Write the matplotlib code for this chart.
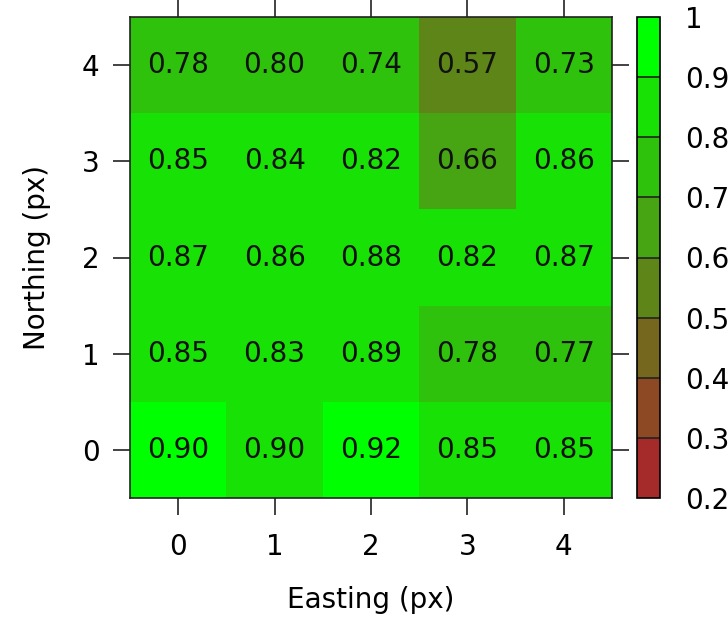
import numpy as np
import matplotlib
matplotlib.use("Agg")
import matplotlib.pyplot as plt
from matplotlib.colors import ListedColormap, BoundaryNorm

easting = [0, 1, 2, 3, 4]
northing = [0, 1, 2, 3, 4]
# rows: northing 0..4, columns: easting 0..4
values = np.array([
    [0.904, 0.897, 0.92, 0.85, 0.85],
    [0.85, 0.83, 0.89, 0.78, 0.77],
    [0.87, 0.86, 0.88, 0.82, 0.87],
    [0.85, 0.84, 0.82, 0.66, 0.86],
    [0.78, 0.798, 0.74, 0.57, 0.73],
])
levels = [0.2, 0.3, 0.4, 0.5, 0.6, 0.7, 0.8, 0.9, 1.0]
level_labels = ["0.2", "0.3", "0.4", "0.5", "0.6", "0.7", "0.8", "0.9", "1"]

c0 = np.array([165, 42, 42]) / 255
c1 = np.array([0, 255, 0]) / 255
n = len(levels) - 1
cols = [tuple(c0 + (c1 - c0) * i / (n - 1)) for i in range(n)]
cmap = ListedColormap(cols)
norm = BoundaryNorm(levels, cmap.N)

fig = plt.figure(figsize=(7.28, 6.18), dpi=100)
W, H = 728, 618
ax = fig.add_axes([130 / W, 1 - 498 / H, 482 / W, 481 / H])
cax = fig.add_axes([637 / W, 1 - 498 / H, 23 / W, 481 / H])

fs = 20
ax.pcolormesh(np.arange(-0.5, 5, 1), np.arange(-0.5, 5, 1), values, cmap=cmap, norm=norm)
for j, yv in enumerate(northing):
    for i, xv in enumerate(easting):
        ax.text(xv, yv, f"{values[j, i]:.2f}", ha="center", va="center", fontsize=fs, color="#111111")
ax.set_xlim(-0.5, 4.5)
ax.set_ylim(-0.5, 4.5)
ax.set_xticks(easting)
ax.set_yticks(northing)
ax.tick_params(direction="out", length=12, width=1.2, labelsize=fs, pad=13,
               top=True, right=True, labeltop=False, labelright=False, color="#222222")
ax.tick_params(axis="y", pad=10)
for s in ax.spines.values():
    s.set_linewidth(1.2)
    s.set_color("#222222")
ax.set_xlabel("Easting (px)", fontsize=fs, labelpad=18)
ax.set_ylabel("Northing (px)", fontsize=fs, labelpad=22)

cb = fig.colorbar(plt.cm.ScalarMappable(norm=norm, cmap=cmap), cax=cax, ticks=levels, drawedges=True)
cb.outline.set_linewidth(1.2)
cb.dividers.set_linewidth(1.2)
cb.dividers.set_color("#222222")
cax.set_yticklabels(level_labels)
cax.tick_params(length=0, labelsize=fs, pad=18)

fig.savefig("out.png", dpi=100)
